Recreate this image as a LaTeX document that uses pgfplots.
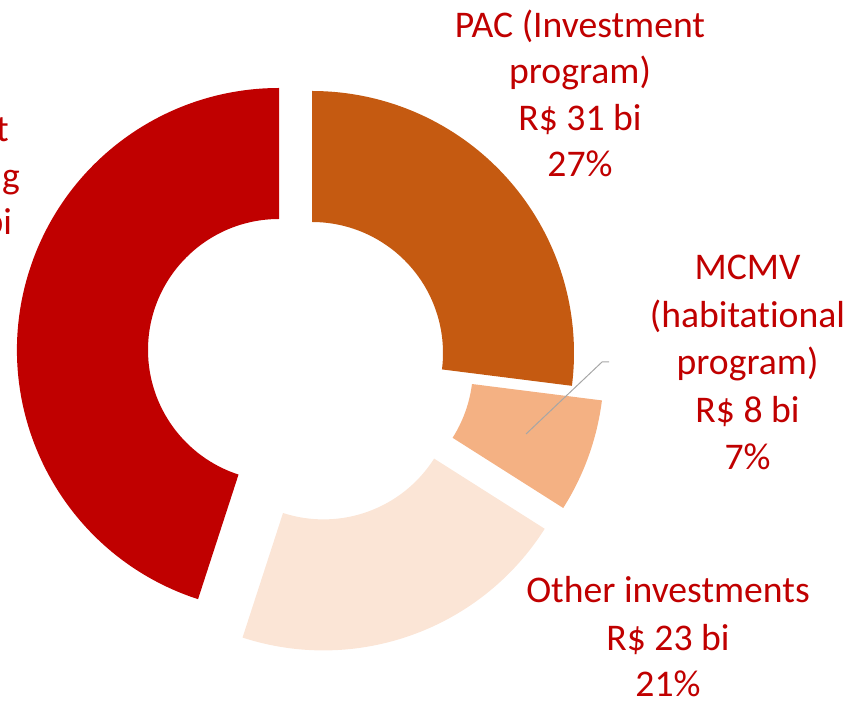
\documentclass[border=0pt]{standalone}
\usepackage{pgfplots}
\pgfplotsset{compat=1.18}
\usetikzlibrary{calc}
\usepackage{fontspec}
\setmainfont{Carlito}[Ligatures={NoCommon,NoContextual}]
\definecolor{cRed}{HTML}{C00000}
\definecolor{cPAC}{HTML}{C55A11}
\definecolor{cMCMV}{HTML}{F4B183}
\definecolor{cOther}{HTML}{FBE5D6}
\definecolor{cText}{HTML}{C00000}
\definecolor{cLead}{HTML}{A6A6A6}
% donut segment: color, centre x, centre y, cumulative share before (%), share (%)
\newcommand\seg[5]{%
  \fill[#1] ($(axis cs:#2,#3)+({90-3.6*#4}:262bp)$)
    arc[start angle={90-3.6*#4}, end angle={90-3.6*(#4+#5)}, radius=262bp]
    -- ($(axis cs:#2,#3)+({90-3.6*(#4+#5)}:131bp)$)
    arc[start angle={90-3.6*(#4+#5)}, end angle={90-3.6*#4}, radius=131bp]
    -- cycle;}
\newcommand\lbl[3]{\node[anchor=base, text=cText, inner sep=0pt,
   font=\fontsize{37.8}{46}\selectfont] at (axis cs:#1,#2) {#3};}
\begin{document}
\begin{tikzpicture}
\begin{axis}[
  scale only axis, width=854bp, height=701bp,
  xmin=0, xmax=854, ymin=0, ymax=701,
  hide axis, clip=false]
\coordinate (BL) at (axis cs:0,0);
\coordinate (TR) at (axis cs:854,701);
% shares: PAC 27, MCMV 7, Other 21, Current 45
\seg{cPAC}{312}{348}{0}{27}
\seg{cMCMV}{342}{333.4}{27}{7}
\seg{cOther}{323.5}{312.6}{34}{21}
\seg{cRed}{279}{351}{55}{45}
\addplot[cLead, line width=1pt, mark=none] coordinates {(609,339) (602,339) (526,267)};
% labels
\lbl{580}{663}{PAC (Investment}
\lbl{580}{617}{program)}
\lbl{580}{570}{R\$ 31 bi}
\lbl{580}{524}{27\%}
\lbl{747.5}{421}{MCMV}
\lbl{747.5}{373}{(habitational}
\lbl{747.5}{326}{program)}
\lbl{747.5}{278}{R\$ 8 bi}
\lbl{747.5}{231}{7\%}
\lbl{668}{98}{Other investments}
\lbl{668}{50}{R\$ 23 bi}
\lbl{668}{5}{21\%}
\lbl{-49.6}{559}{Current}
\lbl{-49.6}{512.5}{spending}
\lbl{-49.6}{466}{R\$ 52 bi}
\lbl{-49.6}{419.5}{45\%}
\end{axis}
\pgfresetboundingbox
\useasboundingbox (BL) rectangle (TR);
\end{tikzpicture}
\end{document}
